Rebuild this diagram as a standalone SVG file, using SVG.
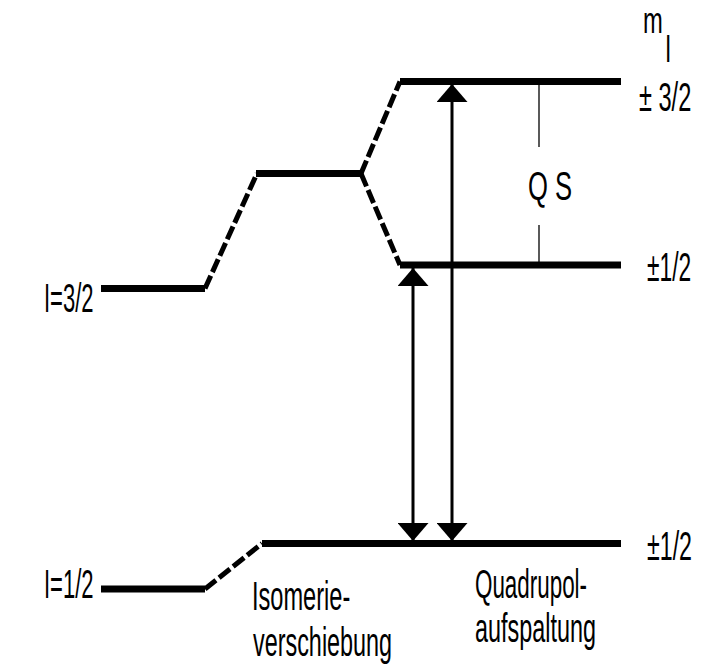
<svg xmlns="http://www.w3.org/2000/svg" width="706" height="666" viewBox="0 0 706 666">
  <defs>
    <style>
      .level { stroke: #000; stroke-width: 7; fill: none; }
      .dash { stroke: #000; stroke-width: 5; fill: none; stroke-dasharray: 14 4; }
      .shaft { stroke: #000; stroke-width: 3; fill: none; }
      .thin { stroke: #000; stroke-width: 1.3; fill: none; }
      text { font-family: "Liberation Sans", Arial, sans-serif; font-size: 40px; fill: #000; }
    </style>
    <marker id="head" viewBox="0 0 18 31" refX="18" refY="15.5" markerWidth="18" markerHeight="31" markerUnits="userSpaceOnUse" orient="auto-start-reverse">
      <path d="M0,0 L18,15.5 L0,31 Z" fill="#000"/>
    </marker>
  </defs>
  <rect width="706" height="666" fill="#fff"/>

  <!-- energy levels -->
  <g id="level-I32"><line class="level" x1="101" y1="288.5" x2="205" y2="288.5"/></g>
  <g id="level-shift"><line class="level" x1="256" y1="173.5" x2="362" y2="173.5"/></g>
  <g id="level-m32"><line class="level" x1="400" y1="81.5" x2="621" y2="81.5"/></g>
  <g id="level-m12-upper"><line class="level" x1="400" y1="265" x2="621" y2="265"/></g>
  <g id="level-I12"><line class="level" x1="101" y1="589" x2="205" y2="589"/></g>
  <g id="level-ground"><line class="level" x1="262" y1="543.5" x2="621" y2="543.5"/></g>

  <!-- connectors -->
  <g id="connectors">
    <line class="dash" x1="205" y1="288.5" x2="257" y2="173.5"/>
    <line class="dash" x1="361" y1="173.5" x2="400" y2="81.5"/>
    <line class="dash" x1="361" y1="173.5" x2="400" y2="265"/>
    <line class="dash" x1="205" y1="589" x2="262" y2="543.5"/>
    <line class="shaft" x1="452" y1="541" x2="452" y2="84" marker-start="url(#head)" marker-end="url(#head)"/>
    <line class="shaft" x1="413" y1="541" x2="413" y2="268" marker-start="url(#head)" marker-end="url(#head)"/>
    <line class="thin" x1="539" y1="82" x2="539" y2="147"/>
    <line class="thin" x1="539" y1="225" x2="539" y2="264"/>
  </g>

  <!-- labels (narrow lettering) -->
  <g id="labels">
    <text transform="translate(643,33) scale(0.66,1)" style="font-size:36px">m</text>
    <text transform="translate(665,62) scale(0.6,1)" style="font-size:38px">I</text>
    <text transform="translate(639,111) scale(0.59,1)">± 3/2</text>
    <text transform="translate(647,281) scale(0.57,1)">±1/2</text>
    <text transform="translate(647,560) scale(0.58,1)">±1/2</text>
    <text transform="translate(528,200) scale(0.64,1)">Q S</text>
    <text transform="translate(44,312) scale(0.55,1)">I=3/2</text>
    <text transform="translate(44,598) scale(0.55,1)">I=1/2</text>
    <text transform="translate(252,610) scale(0.59,1)">Isomerie-</text>
    <text transform="translate(253,656) scale(0.585,1)">verschiebung</text>
    <text transform="translate(475,598) scale(0.56,1)">Quadrupol-</text>
    <text transform="translate(475,642) scale(0.585,1)">aufspaltung</text>
  </g>
</svg>
